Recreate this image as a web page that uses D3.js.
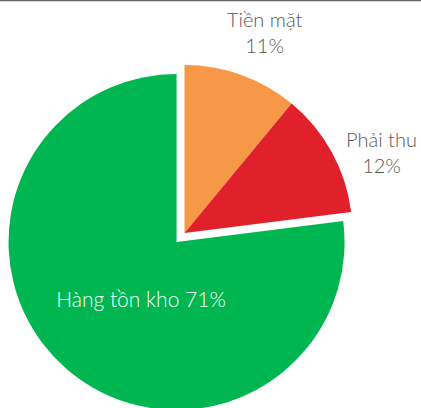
<!DOCTYPE html>
<html>
<head>
<meta charset="utf-8">
<script src="https://cdn.jsdelivr.net/npm/d3@7"></script>
<style>
  body { margin: 0; background: #fff; }
  svg { display: block; }
</style>
</head>
<body>
<svg id="chart" width="421" height="408"></svg>
<script>
// Slice data (angles; labels as printed)
var categories = ["Tiền mặt", "Phải thu", "Hàng tồn kho"]
var shares     = [11, 12, 77]
var pctLabels  = ["11%", "12%", "71%"]
var colors     = ["#F79848", "#E0202A", "#00B650"]

var width  = 421
var height = 408
var cx = 184.5
var cy = 233
var radius = 168
var explode = 12   // only the last slice is pulled out
var font = 'Lato, sans-serif'

var svg = d3.select('#chart')

// thin rule along the top edge
svg.append('line')
    .attr('x1', 0).attr('y1', 0.5)
    .attr('x2', width).attr('y2', 0.5)
    .style('stroke', '#666')
    .style('stroke-width', 1.5)

var pie = d3.pie().sort(null).value(function(d) { return d })
var arcs = pie(shares)

var arc = d3.arc().innerRadius(0).outerRadius(radius)

function offset(d, i) {
    if (i != 2) return [0, 0]
    var a = (d.startAngle + d.endAngle) / 2
    return [Math.sin(a) * explode, -Math.cos(a) * explode]
}

var g = svg.append('g').attr('transform', 'translate(' + cx + ',' + cy + ')')

g.selectAll('path')
    .data(arcs)
    .join('path')
    .attr('d', arc)
    .attr('fill', function(d, i) { return colors[i] })
    .attr('transform', function(d, i) {
        var o = offset(d, i)
        return 'translate(' + o[0] + ',' + o[1] + ')'
    })

// Labels: two outside (name over pct), one inside on a single line
var labelArc = d3.arc().innerRadius(210).outerRadius(210)
var nudge = [[9, -0.5], [13, 23.5], [0, 0]]

arcs.forEach(function(d, i) {
    if (i == 2) {
        var o = offset(d, i)
        svg.append('text')
            .attr('x', cx + o[0] - 35.5)
            .attr('y', cy + o[1] + 65)
            .attr('text-anchor', 'middle')
            .style('font-family', font)
            .style('font-weight', 300)
            .style('font-size', '21px')
            .style('fill', '#fff')
            .text(categories[i] + ' ' + pctLabels[i])
        return
    }
    var c = labelArc.centroid(d)
    var x = cx + c[0] + nudge[i][0]
    var y = cy + c[1] + nudge[i][1]
    var t = svg.append('text')
        .attr('text-anchor', 'middle')
        .style('font-family', font)
        .style('font-weight', 300)
        .style('font-size', '20px')
        .style('fill', '#595959')
    t.append('tspan').attr('x', x).attr('y', y - 8).text(categories[i])
    t.append('tspan').attr('x', x).attr('y', y + 18).text(pctLabels[i])
})
</script>
</body>
</html>
